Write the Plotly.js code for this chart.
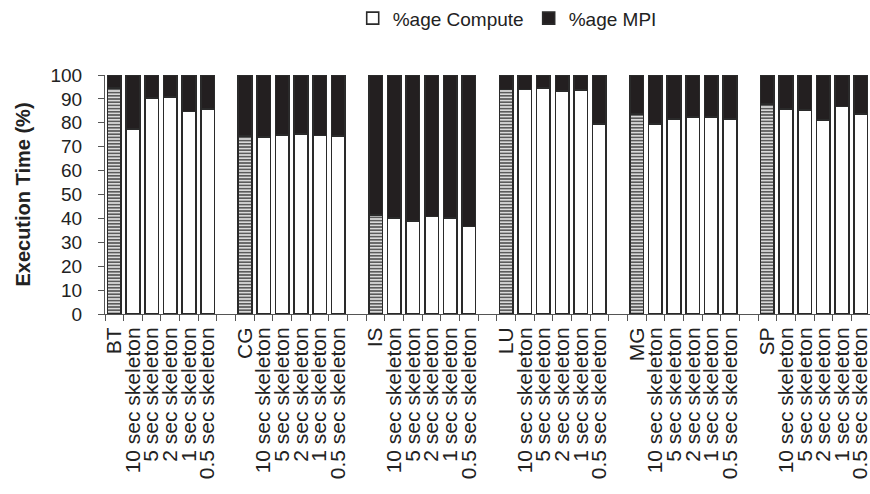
<!DOCTYPE html>
<html><head><meta charset="utf-8">
<script src="https://cdn.plot.ly/plotly-3.0.1.min.js"></script>
<style>html,body{margin:0;padding:0;background:#fff}#chart{width:870px;height:494px}</style>
</head><body><div id="chart"></div>
<script>
const benchmarks = ["BT","CG","IS","LU","MG","SP"];
const skeletons = ["10 sec skeleton","5 sec skeleton","2 sec skeleton","1 sec skeleton","0.5 sec skeleton"];
// full application runs (first bar of each group)
const appCompute = [94.5, 74.5, 41.5, 94.0, 83.7, 87.9];
const appMPI     = [5.5, 25.5, 58.5, 6.0, 16.3, 12.1];
// skeleton runs, in the order of `skeletons`
const btCompute = [77.3, 90.3, 90.8, 84.8, 85.8];
const btMPI     = [22.7, 9.7, 9.2, 15.2, 14.2];
const cgCompute = [74.1, 74.9, 75.3, 74.7, 74.5];
const cgMPI     = [25.9, 25.1, 24.7, 25.3, 25.5];
const isCompute = [40.1, 39.0, 40.8, 40.1, 36.6];
const isMPI     = [59.9, 61.0, 59.2, 59.9, 63.4];
const luCompute = [94.0, 94.6, 93.3, 93.7, 79.4];
const luMPI     = [6.0, 5.4, 6.7, 6.3, 20.6];
const mgCompute = [79.4, 81.5, 82.4, 82.4, 81.5];
const mgMPI     = [20.6, 18.5, 17.6, 17.6, 18.5];
const spCompute = [85.9, 85.4, 81.2, 86.8, 83.7];
const spMPI     = [14.1, 14.6, 18.8, 13.2, 16.3];

const skelCompute = [btCompute, cgCompute, isCompute, luCompute, mgCompute, spCompute];
const skelMPI = [btMPI, cgMPI, isMPI, luMPI, mgMPI, spMPI];

const cats = [], labels = [];
const skX = [], skC = [], skM = [];
benchmarks.forEach((b, i) => {
  cats.push(b); labels.push(b);
  skeletons.forEach((s, j) => {
    const c = b + " " + s;
    cats.push(c); labels.push(s);
    skX.push(c); skC.push(skelCompute[i][j]); skM.push(skelMPI[i][j]);
  });
  if (i < benchmarks.length - 1) { cats.push("gap" + i); labels.push(""); }
});

const edge = {color: '#2a2a2a', width: 1.6};
const traces = [
  {type: 'bar', name: '%age Compute', x: skX, y: skC,
   marker: {color: '#ffffff', line: edge}},
  {type: 'bar', name: '%age Compute (application)', showlegend: false, x: benchmarks, y: appCompute,
   marker: {color: '#d6d6d6', line: edge,
            pattern: {shape: '-', fgcolor: '#3a3a3a', bgcolor: '#dadada', size: 3.2, solidity: 0.4, fillmode: 'replace'}}},
  {type: 'bar', name: '%age MPI', x: benchmarks.concat(skX), y: appMPI.concat(skM),
   marker: {color: '#231f20', line: edge}}
];

const layout = {
  width: 870, height: 494,
  margin: {l: 105, r: 0, t: 75, b: 180},
  paper_bgcolor: '#fff', plot_bgcolor: '#fff',
  font: {family: 'Liberation Sans, Arial, sans-serif', color: '#222', size: 19},
  barmode: 'stack', bargap: 0.27,
  showlegend: true,
  legend: {orientation: 'h', xref: 'container', yref: 'container', x: 0.583, xanchor: 'center',
           y: 0.963, yanchor: 'middle', font: {size: 19, color: '#222'}, itemwidth: 30,
           traceorder: 'normal'},
  xaxis: {type: 'category', categoryorder: 'array', categoryarray: cats,
          tickmode: 'array', tickvals: cats, ticktext: labels, tickangle: -90,
          ticks: 'outside', ticklen: 6, tickson: 'boundaries', tickcolor: '#555', tickwidth: 1,
          showline: true, linecolor: '#555', linewidth: 1, showgrid: false, zeroline: false,
          range: [-0.5, 40.5], tickfont: {size: 21, color: '#222'}, ticklabelstandoff: 4},
  yaxis: {range: [0, 100], dtick: 10, tick0: 0, ticks: 'outside', ticklen: 6, tickcolor: '#555',
          showline: true, linecolor: '#555', linewidth: 1, showgrid: false, zeroline: false,
          tickfont: {size: 19, color: '#222'}, ticklabelstandoff: 12,
          title: {text: 'Execution Time (%)', font: {size: 20, weight: 'bold', color: '#222'}, standoff: 14}}
};

Plotly.newPlot('chart', traces, layout, {displayModeBar: false, staticPlot: true});
</script>
</body></html>
